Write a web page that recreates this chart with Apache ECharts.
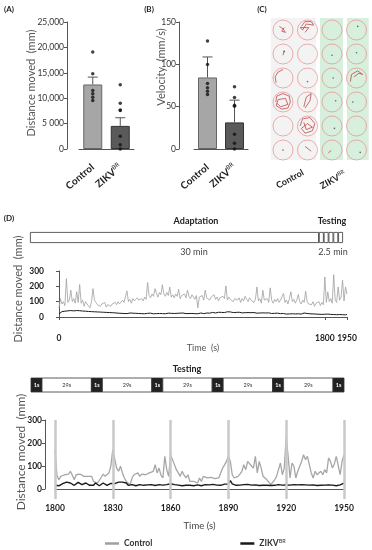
<!DOCTYPE html>
<html><head><meta charset="utf-8">
<script src="https://cdn.jsdelivr.net/npm/echarts@6/dist/echarts.min.js"></script>
<style>html,body{margin:0;padding:0;background:#fff}#c{width:372px;height:550px}</style>
</head><body><div id="c"></div><script>
// ---------- data ----------
const groups = ['Control', 'ZIKV'];
const distMean = [12700, 4550];
const distSem = [1450, 1600];
const distPointsControl = [19090, 14820, 11520, 10870, 10200, 9545];
const distPointsZikv = [12650, 9010, 7700, 7570, 2490, 850, 0];
const distTicks = ['0', '5 000', '10,000', '15,000', '20,000', '25,000'];
const velMean = [84.5, 31.4];
const velSem = [24.2, 26.3];
const velPointsControl = [127.6, 99.8, 77.4, 72.2, 68.3, 64.4];
const velPointsZikv = [73.4, 60.9, 51.8, 50.5, 17.3, 6.7, 0];
const velTicks = ['0', '50', '100', '150'];

// panel C: wells (columns x rows) and a few visible tracks
const wellCols = [1, 2, 3, 4];
const wellRows = [1, 2, 3, 4, 5, 6];
const trajectories = [
  [[0.85,0.85],[1.0,0.95],[1.1,1.1],[0.95,1.05],[1.05,0.9]],
  [[1.05,1.85],[1.0,2.05]],
  [[1.0,2.65],[0.8,2.75],[0.68,2.95],[0.72,3.2]],
  [[0.7,4.0],[0.75,3.75],[1.0,3.65],[1.25,3.75],[1.3,4.0],[1.2,4.25],[0.95,4.3],[0.72,4.15],[0.8,3.9],[1.1,3.85],[1.2,4.1],[0.9,4.2],[0.75,4.05]],
  [[1.75,0.85],[1.9,0.65],[2.15,0.65],[2.25,0.8],[1.95,0.75],[1.8,1.0],[1.7,0.9],[2.05,0.9],[1.9,1.1]],
  [[1.85,4.2],[1.95,3.8],[2.15,3.65],[2.1,3.95],[1.9,4.25]],
  [[1.7,5.0],[1.8,4.7],[2.1,4.65],[2.3,4.9],[2.2,5.2],[1.9,5.3],[1.75,5.1],[2.0,4.9],[2.2,5.05],[1.95,5.15],[1.85,4.85]],
  [[1.9,5.85],[2.15,6.05]],
  [[3.75,3.15],[3.8,2.85],[4.05,2.7],[4.25,2.85],[4.1,2.8],[3.9,2.95]],
  [[2.85,6.12],[2.97,6.02]]
];
const trackDots = [[3.0,2.05],[3.05,3.0],[3.15,3.95],[3.1,5.1],[4.05,0.85],[4.0,1.95],[3.85,4.0],[4.15,6.1],[1.0,6.0],[2.0,3.15],[1.05,1.9]];

// panel D: timeline phases (s) and testing blocks
const phaseDurations = [1800, 30, 30, 30, 30, 30];
const testingBlocks = ['1s','29s','1s','29s','1s','29s','1s','29s','1s','29s','1s'];
const stimulusTimes = [1800, 1830, 1860, 1890, 1920, 1950];
const upperTicks = [0, 1800, 1950];

// upper trace, one value every 10 s from 0 to 1950 s
const upperControl = [
 60,120,85,100,75,250,95,110,175,100,
 120,90,165,95,212,90,110,70,100,85,
 95,60,100,185,110,95,80,90,70,85,
 75,95,65,80,90,70,85,75,95,80,
 100,85,90,110,95,105,170,100,115,90,
 120,105,95,125,110,100,120,105,130,115,
 225,140,125,150,135,185,155,130,160,145,
 210,150,135,160,140,195,130,145,125,150,
 135,180,120,140,130,150,125,175,135,120,
 145,130,115,140,60,130,120,140,110,175,
 125,135,110,130,120,145,115,130,105,125,
 115,135,120,203,110,130,115,125,100,120,
 130,110,125,95,120,105,135,115,100,125,
 110,120,95,115,196,105,120,90,175,110,
 100,120,95,190,110,90,115,100,120,95,
 110,100,153,95,110,85,120,164,100,115,
 90,110,147,100,85,110,95,168,100,85,
 95,80,100,70,90,85,100,75,95,80,
 261,95,164,100,120,90,276,110,95,196,
 110,130,240,105,196,150
];
const upperZikv = [
 20,30,35,32,38,35,40,36,42,38,
 40,37,42,38,41,36,39,35,38,34,
 36,33,35,31,34,30,33,29,32,30,
 31,28,30,27,29,26,28,25,27,26,
 25,27,24,26,23,25,22,24,26,23,
 25,22,24,21,23,25,22,24,21,23,
 24,22,25,23,21,24,22,26,23,25,
 22,24,21,23,25,22,24,21,23,22,
 24,22,25,23,26,24,22,25,23,21,
 23,25,22,24,21,23,26,24,22,25,
 26,28,25,27,30,28,26,29,31,28,
 30,32,29,31,34,30,33,31,29,32,
 30,28,31,29,27,30,28,26,29,27,
 28,26,29,27,25,28,26,24,27,25,
 26,24,27,25,23,26,24,22,25,23,
 22,20,23,21,19,22,20,18,21,19,
 20,18,21,24,19,22,26,20,23,19,
 21,18,20,17,19,16,18,20,17,19,
 18,16,19,15,17,20,16,18,15,17,
 16,18,15,17,14,16
];
// lower trace, one value per second from 1800 to 1950 s
const lowerControl = [
 170,60,40,55,48,62,55,65,77,60,
 40,62,55,65,70,55,48,55,48,55,
 33,30,26,33,50,65,55,62,70,100,
 171,164,91,77,99,70,48,33,25,19,
 48,62,55,70,55,65,62,62,62,70,
 70,77,106,70,91,60,48,142,84,55,
 149,142,106,84,70,55,77,60,48,62,
 33,40,33,30,26,48,33,55,50,48,
 55,51,48,45,40,48,55,91,105,120,
 142,120,62,48,52,55,65,77,106,84,
 120,113,100,91,142,70,120,91,55,48,
 40,33,19,26,40,55,84,113,62,91,
 229,142,48,113,99,48,77,99,120,149,
 128,142,106,70,48,77,62,70,77,62,
 84,70,135,120,91,110,142,135,62,120,
 149
];
const lowerZikv = [
 16,15,14,20,23,26,30,33,26,18,
 16,24,29,22,19,23,26,20,16,22,
 16,26,33,14,20,26,19,16,20,24,
 26,23,28,30,26,30,33,26,16,19,
 19,15,14,17,19,16,16,19,18,16,
 19,14,15,22,19,16,17,16,19,21,
 23,22,19,16,17,19,14,15,16,14,
 16,15,14,16,18,16,14,17,19,16,
 18,16,20,15,17,19,16,18,21,20,
 22,36,22,17,16,15,17,16,19,26,
 20,16,17,16,18,16,15,17,16,18,
 16,17,15,18,16,17,19,16,17,15,
 18,16,17,15,19,16,18,21,19,17,
 18,16,17,19,18,16,15,17,16,18,
 17,16,18,15,17,16,14,16,18,22,
 26
];

// ---------- chart ----------
const FONT = 'Lato';
const chart = echarts.init(document.getElementById('c'), null, {renderer: 'canvas'});

const supRich = {
  n: {fontSize: 10, fontWeight: 'bold', color: '#222', fontFamily: FONT},
  s: {fontSize: 6, color: '#222', fontFamily: FONT, padding: [0, 0, 6, 0]}
};
function catLabel(v) { return v === 'ZIKV' ? '{n|ZIKV}{s|BR}' : '{n|' + v + '}'; }

function errRender(params, api) {
  const x = api.value(0), m = api.value(1), e = api.value(2);
  const p0 = api.coord([x, m]); const p1 = api.coord([x, m + e]);
  const st = {stroke: '#555', lineWidth: 1};
  return {type: 'group', children: [
    {type: 'line', shape: {x1: p0[0], y1: p0[1], x2: p1[0], y2: p1[1]}, style: st},
    {type: 'line', shape: {x1: p1[0] - 5, y1: p1[1], x2: p1[0] + 5, y2: p1[1]}, style: st}
  ]};
}

const axisLineStyle = {color: '#555', width: 1};
function barXAxis(gi) {
  return {gridIndex: gi, type: 'category', data: groups, offset: 12,
    axisLine: {lineStyle: axisLineStyle}, axisTick: {alignWithLabel: true, length: 3, lineStyle: axisLineStyle},
    axisLabel: {rotate: 40, margin: 5, formatter: catLabel, rich: supRich, interval: 0}};
}
function barYAxis(gi, max, interval, ticks, off) {
  return {gridIndex: gi, type: 'value', min: 0, max: max, interval: interval, offset: off,
    axisLine: {show: true, lineStyle: axisLineStyle}, axisTick: {show: true, length: 3, lineStyle: axisLineStyle},
    splitLine: {show: false},
    axisLabel: {fontSize: 8.5, color: '#333', margin: 3, fontFamily: FONT,
      formatter: v => ticks[Math.round(v / interval)]}};
}

const series = [];
// Panel A
series.push({type: 'bar', xAxisIndex: 0, yAxisIndex: 0, barWidth: 19,
  data: [{value: distMean[0], itemStyle: {color: '#a6a6a6', borderColor: '#666', borderWidth: 1}},
         {value: distMean[1], itemStyle: {color: '#5a5a5a', borderColor: '#333', borderWidth: 1}}]});
series.push({type: 'custom', xAxisIndex: 0, yAxisIndex: 0, renderItem: errRender, z: 3,
  data: groups.map((g, i) => [i, distMean[i], distSem[i]]), encode: {x: 0, y: 1}});
series.push({type: 'scatter', xAxisIndex: 0, yAxisIndex: 0, symbolSize: 3.5, z: 4,
  itemStyle: {color: '#111'},
  data: distPointsControl.map(v => [0, v]).concat(distPointsZikv.map(v => [1, v]))});
// Panel B
series.push({type: 'bar', xAxisIndex: 1, yAxisIndex: 1, barWidth: 19,
  data: [{value: velMean[0], itemStyle: {color: '#a6a6a6', borderColor: '#666', borderWidth: 1}},
         {value: velMean[1], itemStyle: {color: '#5a5a5a', borderColor: '#333', borderWidth: 1}}]});
series.push({type: 'custom', xAxisIndex: 1, yAxisIndex: 1, renderItem: errRender, z: 3,
  data: groups.map((g, i) => [i, velMean[i], velSem[i]]), encode: {x: 0, y: 1}});
series.push({type: 'scatter', xAxisIndex: 1, yAxisIndex: 1, symbolSize: 3.5, z: 4,
  itemStyle: {color: '#111'},
  data: velPointsControl.map(v => [0, v]).concat(velPointsZikv.map(v => [1, v]))});
// Panel C
const wells = [];
wellCols.forEach(c => wellRows.forEach(r => wells.push([c, r])));
series.push({type: 'scatter', xAxisIndex: 2, yAxisIndex: 2, symbol: 'circle', symbolSize: 20, silent: true,
  itemStyle: {color: 'rgba(0,0,0,0)', borderColor: '#e69a9a', borderWidth: 1}, data: wells,
  markArea: {silent: true, data: [
    [{xAxis: 0.5, yAxis: 0.5, itemStyle: {color: '#f3f3f3'}}, {xAxis: 2.35, yAxis: 6.42}],
    [{xAxis: 2.51, yAxis: 0.5, itemStyle: {color: '#d7efdd'}}, {xAxis: 3.45, yAxis: 6.42}],
    [{xAxis: 3.61, yAxis: 0.5, itemStyle: {color: '#d7efdd'}}, {xAxis: 4.55, yAxis: 6.42}]
  ]}});
trajectories.forEach(t => series.push({type: 'line', xAxisIndex: 2, yAxisIndex: 2, data: t, showSymbol: false,
  silent: true, lineStyle: {color: '#c04848', width: 0.8}, z: 3}));
series.push({type: 'scatter', xAxisIndex: 2, yAxisIndex: 2, data: trackDots, symbolSize: 1.6, silent: true,
  itemStyle: {color: '#444'}, z: 4});
// Panel D timeline
phaseDurations.forEach(d => series.push({type: 'bar', xAxisIndex: 3, yAxisIndex: 3, stack: 'phase', barWidth: 11,
  data: [d], silent: true, itemStyle: {color: '#fff', borderColor: '#333', borderWidth: 0.8}}));
// Panel D upper traces
series.push({name: 'Control', type: 'line', xAxisIndex: 4, yAxisIndex: 4, showSymbol: false, silent: true,
  data: upperControl.map((v, i) => [i * 10, v]), lineStyle: {color: '#a0a0a0', width: 0.8}, itemStyle: {color: '#a0a0a0'}});
series.push({name: 'ZIKV', type: 'line', xAxisIndex: 4, yAxisIndex: 4, showSymbol: false, silent: true,
  data: upperZikv.map((v, i) => [i * 10, v]), lineStyle: {color: '#1a1a1a', width: 1}, itemStyle: {color: '#1a1a1a'}});
// Panel D stimulus markers
series.push({type: 'line', xAxisIndex: 6, yAxisIndex: 6, data: [], silent: true, z: 1,
  markLine: {symbol: 'none', silent: true, label: {show: false},
    lineStyle: {color: '#c9c9c9', width: 2.5, type: 'solid'},
    data: stimulusTimes.map(t => ({xAxis: t}))}});
// Panel D lower traces
series.push({name: 'Control', type: 'line', xAxisIndex: 5, yAxisIndex: 5, showSymbol: false, silent: true, z: 3,
  data: lowerControl.map((v, i) => [1800 + i, v]), lineStyle: {color: '#a6a6a6', width: 1.3}, itemStyle: {color: '#a6a6a6'}});
series.push({name: 'ZIKV', type: 'line', xAxisIndex: 5, yAxisIndex: 5, showSymbol: false, silent: true, z: 3,
  data: lowerZikv.map((v, i) => [1800 + i, v]), lineStyle: {color: '#1a1a1a', width: 1.4}, itemStyle: {color: '#1a1a1a'}});

// graphics
const graphic = [];
function txt(x, y, text, size, opts) {
  graphic.push(Object.assign({type: 'text', x: x, y: y, silent: true,
    style: Object.assign({text: text, fontSize: size, fontFamily: FONT, fill: '#222', align: 'center', verticalAlign: 'middle'}, (opts && opts.style) || {})},
    (opts && opts.el) || {}));
}
txt(9, 9, '(A)', 8, {style: {fontWeight: 'bold'}});
txt(149, 9, '(B)', 8, {style: {fontWeight: 'bold'}});
txt(262, 9, '(C)', 8, {style: {fontWeight: 'bold'}});
txt(9, 218, '(D)', 8, {style: {fontWeight: 'bold'}});
txt(31, 83, 'Distance moved  (mm)', 11, {style: {fill: '#555'}, el: {rotation: Math.PI / 2}});
txt(161, 67, 'Velocity  (mm/s)', 11, {style: {fill: '#555'}, el: {rotation: Math.PI / 2}});
txt(18, 289, 'Distance moved  (mm)', 11, {style: {fill: '#555'}, el: {rotation: Math.PI / 2}});
txt(21, 452, 'Distance moved  (mm)', 12, {style: {fill: '#555'}, el: {rotation: Math.PI / 2}});
txt(290, 179, 'Control', 9, {style: {fontWeight: 'bold'}, el: {rotation: 0.5}});
graphic.push({type: 'text', x: 333, y: 180, rotation: 0.5, silent: true,
  style: {text: '{n|ZIKV}{s|BR}', rich: {n: {fontSize: 9, fontWeight: 'bold', fill: '#222', fontFamily: FONT}, s: {fontSize: 5.5, fill: '#222', fontFamily: FONT, padding: [0, 0, 5, 0]}}, align: 'center', verticalAlign: 'middle'}});
txt(196, 221, 'Adaptation', 9, {style: {fontWeight: 'bold'}});
txt(332, 221, 'Testing', 9, {style: {fontWeight: 'bold'}});
txt(194, 252, '30 min', 9, {style: {fill: '#444'}});
txt(333, 252, '2.5 min', 9, {style: {fill: '#444'}});
txt(187, 369, 'Testing', 9, {style: {fontWeight: 'bold'}});
// testing schematic blocks
(function () {
  const x0 = 31, y0 = 378, h = 14, total = 313, wb = 11;
  const nb = testingBlocks.filter(b => b === '1s').length;
  const ww = (total - nb * wb) / (testingBlocks.length - nb);
  let x = x0;
  testingBlocks.forEach(b => {
    const dark = b === '1s'; const w = dark ? wb : ww;
    graphic.push({type: 'rect', silent: true, shape: {x: x, y: y0, width: w, height: h},
      style: {fill: dark ? '#222' : '#fff', stroke: '#333', lineWidth: 0.8}});
    txt(x + w / 2, y0 + h / 2, b, 5.5, {style: {fill: dark ? '#fff' : '#333', fontWeight: dark ? 'bold' : 'normal'}});
    x += w;
  });
})();

const dTick = {fontSize: 8.5, color: '#222', fontWeight: 'bold', fontFamily: FONT, formatter: v => String(v)};

chart.setOption({
  animation: false,
  textStyle: {fontFamily: FONT},
  grid: [
    {left: 79, top: 22, width: 55, height: 127},
    {left: 194, top: 22, width: 54, height: 127},
    {left: 270.75, top: 18, width: 98, height: 144},
    {left: 30, top: 232, width: 313, height: 11},
    {left: 59, top: 271, width: 288, height: 46},
    {left: 55, top: 420, width: 289, height: 69},
    {left: 55, top: 420, width: 289, height: 79}
  ],
  xAxis: [
    barXAxis(0), barXAxis(1),
    {gridIndex: 2, type: 'value', min: 0.5, max: 4.5, show: false},
    {gridIndex: 3, type: 'value', min: 0, max: 1950, show: false},
    {gridIndex: 4, type: 'value', min: 0, max: 1950, offset: 13,
      name: 'Time  (s)', nameLocation: 'middle', nameGap: 10,
      nameTextStyle: {fontSize: 9, color: '#555', fontFamily: FONT},
      axisLine: {lineStyle: axisLineStyle}, splitLine: {show: false},
      axisTick: {length: 3, lineStyle: axisLineStyle, customValues: upperTicks},
      axisLabel: Object.assign({margin: 4, customValues: upperTicks}, dTick)},
    {gridIndex: 5, type: 'value', min: 1800, max: 1950, interval: 30, offset: 10,
      name: 'Time (s)', nameLocation: 'middle', nameGap: 22,
      nameTextStyle: {fontSize: 9.5, color: '#444', fontFamily: FONT},
      axisLine: {lineStyle: axisLineStyle}, splitLine: {show: false},
      axisTick: {length: 3, lineStyle: axisLineStyle},
      axisLabel: Object.assign({margin: 5}, dTick)},
    {gridIndex: 6, type: 'value', min: 1800, max: 1950, show: false}
  ],
  yAxis: [
    barYAxis(0, 25000, 5000, distTicks, 12),
    barYAxis(1, 150, 50, velTicks, 15),
    {gridIndex: 2, type: 'value', min: 0.5, max: 6.5, inverse: true, show: false},
    {gridIndex: 3, type: 'category', data: ['timeline'], show: false},
    {gridIndex: 4, type: 'value', min: 0, max: 300, interval: 100, offset: 12,
      axisLine: {show: true, lineStyle: axisLineStyle}, axisTick: {show: true, length: 3, lineStyle: axisLineStyle},
      splitLine: {show: false}, axisLabel: Object.assign({margin: 3}, dTick)},
    {gridIndex: 5, type: 'value', min: 0, max: 300, interval: 100, offset: 10,
      axisLine: {show: true, lineStyle: axisLineStyle}, axisTick: {show: true, length: 3, lineStyle: axisLineStyle},
      splitLine: {show: false}, axisLabel: Object.assign({margin: 3}, dTick)},
    {gridIndex: 6, type: 'value', min: 0, max: 1, show: false}
  ],
  legend: {data: ['Control', 'ZIKV'], left: 100, top: 533, icon: 'rect', itemWidth: 14, itemHeight: 2.5,
    itemGap: 88, selectedMode: false,
    formatter: n => n === 'ZIKV' ? '{n|ZIKV}{s|BR}' : '{n|Control}',
    textStyle: {rich: {n: {fontSize: 8.5, fontWeight: 'bold', color: '#333', fontFamily: FONT},
      s: {fontSize: 5.5, color: '#333', fontFamily: FONT, padding: [0, 0, 5, 0]}}}},
  graphic: graphic,
  series: series
});
</script></body></html>
